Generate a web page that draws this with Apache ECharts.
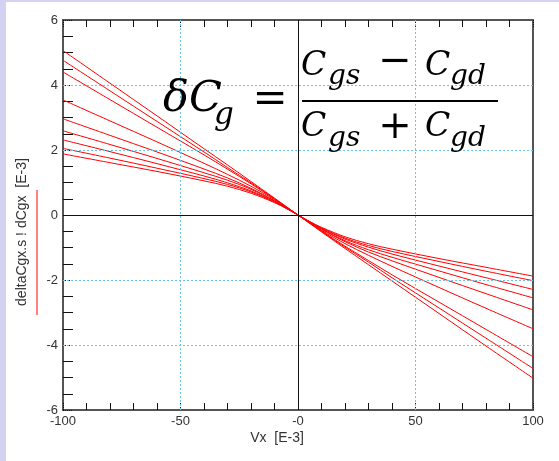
<!DOCTYPE html>
<html><head><meta charset="utf-8">
<script src="https://cdn.jsdelivr.net/npm/echarts@6/dist/echarts.min.js"></script>
<style>html,body{margin:0;padding:0;background:#fff}#c{width:559px;height:461px}</style>
</head><body><div id="c"></div>
<script>
const xs = [-100,-80,-60,-40,-30,-20,-10,-5,0,5,10,20,30,40,60,80,100];
const line1 = [5.06,4.055,3.05,2.04,1.54,1.03,0.52,0.26,0,-0.26,-0.52,-1.03,-1.53,-2.03,-3.03,-4.03,-5.02];
const line2 = [4.76,3.82,2.88,1.94,1.46,0.99,0.50,0.25,0,-0.25,-0.50,-0.99,-1.45,-1.93,-2.86,-3.79,-4.72];
const line3 = [4.40,3.55,2.70,1.85,1.41,0.96,0.49,0.25,0,-0.25,-0.49,-0.96,-1.40,-1.84,-2.68,-3.52,-4.36];
const line4 = [3.54,2.895,2.25,1.59,1.25,0.885,0.47,0.24,0,-0.24,-0.47,-0.88,-1.24,-1.58,-2.23,-2.87,-3.50];
const line5 = [2.96,2.45,1.94,1.415,1.14,0.82,0.44,0.23,0,-0.23,-0.44,-0.82,-1.14,-1.41,-1.92,-2.42,-2.92];
const line6 = [2.59,2.17,1.74,1.30,1.07,0.79,0.43,0.22,0,-0.22,-0.43,-0.79,-1.07,-1.30,-1.72,-2.14,-2.55];
const line7 = [2.31,1.95,1.58,1.20,0.99,0.74,0.41,0.21,0,-0.21,-0.41,-0.74,-0.99,-1.20,-1.57,-1.93,-2.29];
const line8 = [2.05,1.75,1.44,1.12,0.94,0.71,0.40,0.21,0,-0.21,-0.40,-0.71,-0.94,-1.12,-1.43,-1.73,-2.02];
const line9 = [1.88,1.61,1.34,1.05,0.885,0.67,0.38,0.20,0,-0.20,-0.38,-0.67,-0.885,-1.05,-1.34,-1.61,-1.88];
const lines = [line1,line2,line3,line4,line5,line6,line7,line8,line9];
const xTicks = [-100,-50,0,50,100];
const yTicks = [-6,-4,-2,0,2,4,6];
const xGrid = [-50,50];
const yGrid = [-4,-2,2,4];

const chart = echarts.init(document.getElementById('c'), null, {renderer:'canvas'});
const F = 'Liberation Sans, Arial, sans-serif';
const M = 'DejaVu Serif, serif';
const series = [];
series.push({type:'line', data:[], silent:true, animation:false, z:1,
  markLine:{silent:true, symbol:['none','none'], label:{show:false},
    lineStyle:{color:'#66c4f0', width:1, type:[2,2]},
    data: xGrid.map(v=>({xAxis:v})).concat(yGrid.map(v=>({yAxis:v})))}});
series.push({type:'line', data:[], silent:true, animation:false, z:2,
  markLine:{silent:true, symbol:['none','none'], label:{show:false},
    lineStyle:{color:'#111', width:1, type:'solid'},
    data:[{xAxis:0},{yAxis:0}]}});
lines.forEach(ys => series.push({
  type:'line', data: xs.map((x,j)=>[x, ys[j]]), smooth:0.35, showSymbol:false,
  lineStyle:{color:'#ff0000', width:1}, silent:true, animation:false, z:3
}));

function txt(x, y, s, size, opt) {
  return Object.assign({type:'text', x:x, y:y, silent:true, z:10,
    style:Object.assign({text:s, font:'italic ' + size + 'px ' + M, fill:'#000', textVerticalAlign:'middle'}, opt||{})});
}
const axLine = {show:true, onZero:false, lineStyle:{color:'#555', width:2}};
chart.setOption({
  animation:false,
  backgroundColor:'#fff',
  grid:{left:63, right:26, top:20, bottom:51},
  xAxis:[{
    type:'value', min:xTicks[0], max:xTicks[xTicks.length-1], interval:50,
    axisLine:axLine,
    axisTick:{show:true, inside:true, length:7, lineStyle:{color:'#111', type:[1,1]}},
    minorTick:{show:true, splitNumber:5, length:7, lineStyle:{color:'#111'}},
    axisLabel:{color:'#333', fontSize:13, fontFamily:F, margin:5,
      formatter:v => v===0 ? '-0' : String(v)},
    splitLine:{show:false}
  },{
    type:'value', position:'top', min:xTicks[0], max:xTicks[xTicks.length-1], interval:50,
    axisLine:axLine,
    axisTick:{show:true, inside:true, length:7, lineStyle:{color:'#111', type:[1,1]}},
    minorTick:{show:true, splitNumber:5, length:7, lineStyle:{color:'#111'}},
    axisLabel:{show:false}, splitLine:{show:false}
  }],
  yAxis:[{
    type:'value', min:yTicks[0], max:yTicks[yTicks.length-1], interval:2,
    axisLine:axLine,
    axisTick:{show:true, inside:true, length:10, lineStyle:{color:'#111', type:[1,1]}},
    minorTick:{show:true, splitNumber:4, length:10, lineStyle:{color:'#111'}},
    axisLabel:{color:'#333', fontSize:13, fontFamily:F, margin:5},
    splitLine:{show:false}
  },{
    type:'value', position:'right', min:-6, max:6, interval:2,
    axisLine:axLine,
    axisTick:{show:false}, axisLabel:{show:false}, splitLine:{show:false}
  }],
  series: series,
  graphic:[
    {type:'rect', shape:{x:0,y:0,width:6,height:461}, style:{fill:'#d4d2f2'}, silent:true},
    {type:'rect', shape:{x:0,y:0,width:559,height:2}, style:{fill:'#d4d2f2'}, silent:true},
    {type:'text', x:277, y:438, silent:true, style:{text:'Vx  [E-3]', font:'14px '+F, fill:'#333', textAlign:'center', textVerticalAlign:'middle'}},
    {type:'text', x:22, y:232, rotation:Math.PI/2, silent:true, style:{text:'deltaCgx.s ! dCgx  [E-3]', font:'14px '+F, fill:'#333', textAlign:'center', textVerticalAlign:'middle'}},
    {type:'line', shape:{x1:37,y1:190,x2:37,y2:315}, style:{stroke:'#ff0000', lineWidth:1}, silent:true},
    txt(163, 100, 'δC', 43),
    txt(214, 116, 'g', 31),
    {type:'text', x:270, y:101, silent:true, z:10, style:{text:'=', font:'42px '+M, fill:'#000', textAlign:'center', textVerticalAlign:'middle'}},
    txt(301, 66, 'C', 33),
    txt(328, 77, 'gs', 28),
    {type:'text', x:395, y:63, silent:true, z:10, style:{text:'−', font:'40px '+M, fill:'#000', textAlign:'center', textVerticalAlign:'middle'}},
    txt(425, 66, 'C', 33),
    txt(450, 77, 'gd', 28),
    {type:'rect', shape:{x:302,y:100,width:196,height:2}, style:{fill:'#000'}, silent:true, z:10},
    txt(301, 127, 'C', 33),
    txt(328, 139, 'gs', 28),
    {type:'text', x:395, y:128, silent:true, z:10, style:{text:'+', font:'40px '+M, fill:'#000', textAlign:'center', textVerticalAlign:'middle'}},
    txt(425, 127, 'C', 33),
    txt(450, 139, 'gd', 28)
  ]
});
</script></body></html>
